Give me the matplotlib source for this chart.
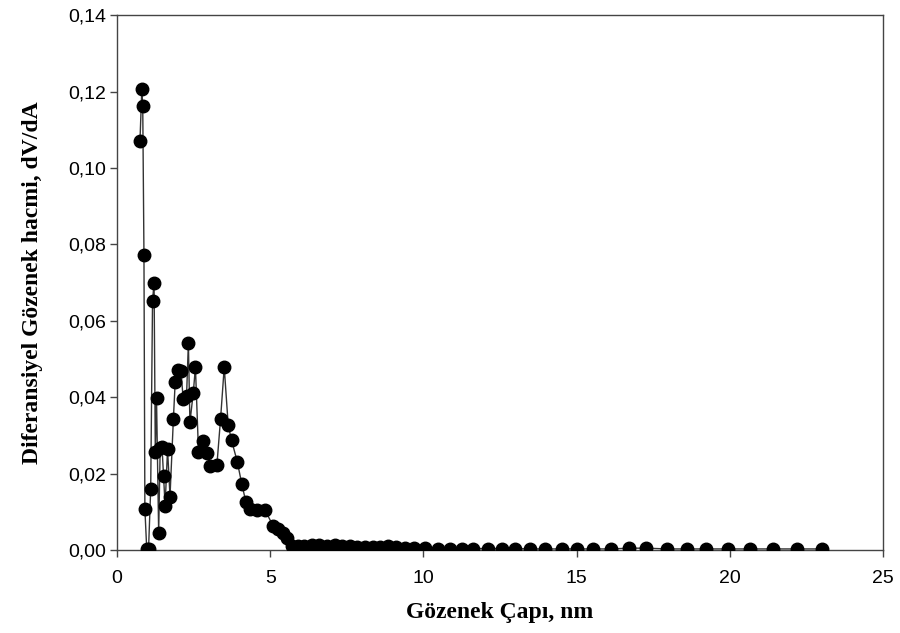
import matplotlib
matplotlib.use("Agg")
import matplotlib.pyplot as plt
from matplotlib.ticker import FuncFormatter

# Pore diameter (nm) and differential pore volume dV/dA
pore_diameter = [
    0.75, 0.81, 0.84, 0.88, 0.91, 0.97, 1.03, 1.10, 1.16, 1.21,
    1.25, 1.29, 1.36, 1.41, 1.47, 1.52, 1.57, 1.65, 1.73, 1.84,
    1.90, 1.99, 2.09, 2.16, 2.27, 2.33, 2.38, 2.49, 2.56, 2.66,
    2.80, 2.95, 3.04, 3.26, 3.38, 3.50, 3.63, 3.74, 3.93, 4.07,
    4.21, 4.34, 4.56, 4.82, 5.10, 5.25, 5.42, 5.55, 5.70, 5.90,
    6.10, 6.35, 6.60, 6.85, 7.10, 7.35, 7.60, 7.85, 8.10, 8.35,
    8.60, 8.85, 9.10, 9.40, 9.70, 10.05, 10.49, 10.87, 11.25, 11.63,
    12.12, 12.56, 12.99, 13.48, 13.97, 14.51, 15.00, 15.54, 16.14, 16.72,
    17.28, 17.94, 18.59, 19.24, 19.95, 20.66, 21.42, 22.18, 23.00,
]
dv_da = [
    0.1071, 0.1207, 0.1163, 0.0772, 0.0108, 0.0003, 0.0003, 0.0160, 0.0652, 0.0700,
    0.0258, 0.0399, 0.0045, 0.0268, 0.0270, 0.0193, 0.0116, 0.0264, 0.0140, 0.0342,
    0.0441, 0.0471, 0.0468, 0.0395, 0.0403, 0.0542, 0.0334, 0.0412, 0.0479, 0.0258,
    0.0285, 0.0253, 0.0220, 0.0222, 0.0343, 0.0479, 0.0327, 0.0287, 0.0230, 0.0174,
    0.0125, 0.0108, 0.0106, 0.0106, 0.0063, 0.0054, 0.0044, 0.0031, 0.0011, 0.0011,
    0.0011, 0.0012, 0.0012, 0.0011, 0.0012, 0.0011, 0.0010, 0.0009, 0.0009, 0.0008,
    0.0009, 0.0010, 0.0007, 0.0006, 0.0005, 0.0005, 0.0004, 0.0004, 0.0004, 0.0004,
    0.0004, 0.0004, 0.0004, 0.0003, 0.0003, 0.0003, 0.0003, 0.0003, 0.0003, 0.0005,
    0.0005, 0.0003, 0.0003, 0.0003, 0.0003, 0.0003, 0.0003, 0.0003, 0.0003,
]

x_ticks = [0, 5, 10, 15, 20, 25]
y_ticks = [0.00, 0.02, 0.04, 0.06, 0.08, 0.10, 0.12, 0.14]

fig = plt.figure(figsize=(9.0, 6.33), dpi=100)
ax = fig.add_axes([0.130, 0.131, 0.851, 0.845])

ax.plot(pore_diameter, dv_da, color="#333333", linewidth=1.0,
        marker="o", markersize=9, markerfacecolor="black",
        markeredgecolor="black", zorder=3)

ax.set_xlim(0, 25)
ax.set_ylim(0, 0.14)
ax.set_xticks(x_ticks)
ax.set_yticks(y_ticks)
ax.yaxis.set_major_formatter(FuncFormatter(lambda v, p: f"{v:.2f}".replace(".", ",")))
ax.xaxis.set_major_formatter(FuncFormatter(lambda v, p: f"{v:g}"))

for lbl in ax.get_xticklabels() + ax.get_yticklabels():
    lbl.set_fontfamily("Liberation Sans")
    lbl.set_fontsize(14)
ax.tick_params(direction="out", length=5, width=1, color="#444444")
ax.tick_params(axis="y", pad=3)
ax.tick_params(axis="x", pad=9)
ax.tick_params(top=False, right=False)

for s in ax.spines.values():
    s.set_color("#444444")
    s.set_linewidth(1.0)

ax.set_xlabel("Gözenek Çapı, nm", fontfamily="Liberation Serif",
              fontweight="bold", fontsize=17, labelpad=11)
ax.set_ylabel("Diferansiyel Gözenek hacmi, dV/dA", fontfamily="Liberation Serif",
              fontweight="bold", fontsize=17, labelpad=18)

fig.savefig("out.png", dpi=100, facecolor="white")
